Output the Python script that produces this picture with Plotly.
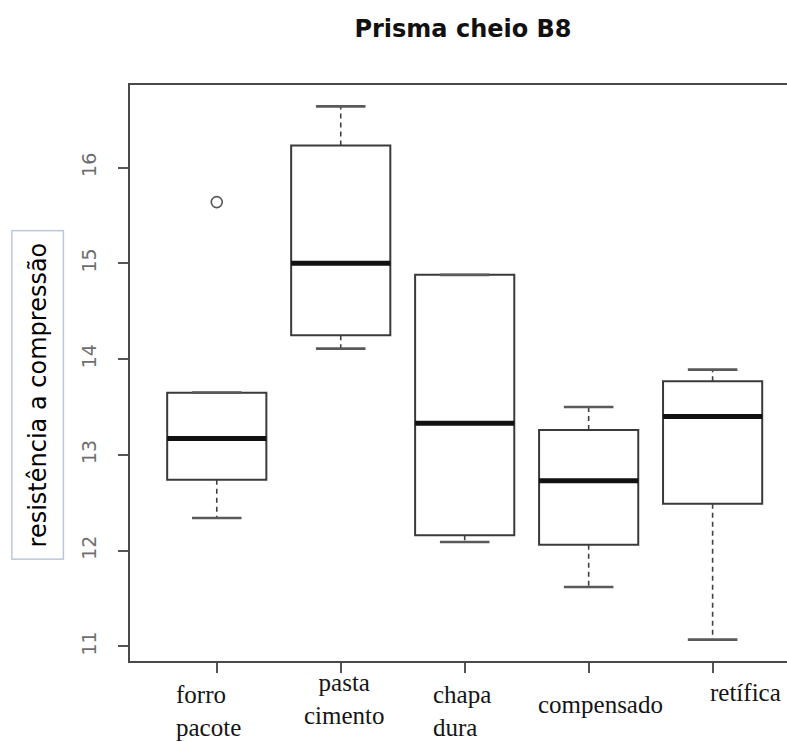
import plotly.graph_objects as go

# Compression strength per formwork type (five-number summaries)
categories = ["forro pacote", "pasta cimento", "chapa dura", "compensado", "retífica"]
category_labels = ["forro<br>pacote", "pasta<br>cimento", "chapa<br>dura", "compensado", "retífica"]
lower_whisker = [12.34, 14.11, 12.09, 11.62, 11.07]
q1 = [12.74, 14.25, 12.16, 12.06, 12.49]
median = [13.17, 15.00, 13.33, 12.73, 13.40]
q3 = [13.65, 16.23, 14.88, 13.26, 13.77]
upper_whisker = [13.65, 16.64, 14.88, 13.50, 13.89]
outlier_category = ["forro pacote"]
outlier_value = [15.64]
y_ticks = [11, 12, 13, 14, 15, 16]

pos = list(range(1, len(categories) + 1))
BOX_W = 0.8
CAP_W = 0.4

fig = go.Figure()

fig.add_trace(go.Box(
    x=pos, q1=q1, median=median, q3=q3,
    lowerfence=q1, upperfence=q3,
    width=BOX_W, fillcolor="white",
    line=dict(color="#3a3a3a", width=2),
    whiskerwidth=0, boxpoints=False, hoverinfo="skip",
))

# dashed whiskers
wx, wy = [], []
for p, lo, a, b, hi in zip(pos, lower_whisker, q1, q3, upper_whisker):
    wx += [p, p, None, p, p, None]
    wy += [b, hi, None, a, lo, None]
fig.add_trace(go.Scatter(x=wx, y=wy, mode="lines",
                         line=dict(color="#404040", width=1.6, dash="5px,4px"),
                         hoverinfo="skip"))

# whisker staples
cx, cy = [], []
for p, lo, hi in zip(pos, lower_whisker, upper_whisker):
    cx += [p - CAP_W / 2, p + CAP_W / 2, None, p - CAP_W / 2, p + CAP_W / 2, None]
    cy += [hi, hi, None, lo, lo, None]
fig.add_trace(go.Scatter(x=cx, y=cy, mode="lines",
                         line=dict(color="#5a5a5a", width=2.6),
                         hoverinfo="skip"))

# thick median bars
mx, my = [], []
for p, m in zip(pos, median):
    mx += [p - BOX_W / 2, p + BOX_W / 2, None]
    my += [m, m, None]
fig.add_trace(go.Scatter(x=mx, y=my, mode="lines",
                         line=dict(color="#111111", width=5),
                         hoverinfo="skip"))

# outliers
fig.add_trace(go.Scatter(
    x=[pos[categories.index(c)] for c in outlier_category], y=outlier_value,
    mode="markers",
    marker=dict(symbol="circle-open", size=11, color="#555555", line=dict(width=1.6)),
    hoverinfo="skip"))

# category labels under the axis
label_xshift = [-43, 4, -34, -53, -5]
label_xanchor = ["left", "center", "left", "left", "left"]
label_yshift = [-18, -6, -18, -28, -16]
for p, txt, xs, xa, ys in zip(pos, category_labels, label_xshift, label_xanchor, label_yshift):
    fig.add_annotation(x=p, y=0, xref="x", yref="paper", text=txt,
                       showarrow=False, xanchor=xa, yanchor="top", align=xa,
                       xshift=xs, yshift=ys,
                       font=dict(family="Liberation Serif", size=25, color="#151515"))

# boxed y-axis title
fig.add_annotation(x=-0.140, y=0.462, xref="paper", yref="paper",
                   text="resistência a compressão", textangle=-90,
                   showarrow=False, xanchor="center", yanchor="middle",
                   bordercolor="#b9c8df", borderwidth=1.5, borderpad=11,
                   font=dict(family="DejaVu Sans", size=24, color="#000000"))

fig.update_layout(
    width=787, height=742,
    margin=dict(l=130, r=0, t=85, b=81),
    paper_bgcolor="white", plot_bgcolor="white",
    showlegend=False,
    title=dict(text="<b>Prisma cheio B8</b>", x=463 / 787, xanchor="center",
               y=1 - 29 / 742, yanchor="middle", yref="container",
               font=dict(family="DejaVu Sans", size=24, color="#111111")),
    xaxis=dict(range=[0.3, 5.6], tickvals=pos, showticklabels=False,
               ticks="outside", ticklen=10, tickwidth=2, tickcolor="#555555",
               showline=True, mirror=True, linecolor="#4a4a4a", linewidth=2,
               showgrid=False, zeroline=False),
    yaxis=dict(range=[10.847, 16.863], tickvals=y_ticks, tickangle=-90,
               ticks="outside", ticklen=10, tickwidth=2, tickcolor="#555555",
               tickfont=dict(family="DejaVu Sans", size=19, color="#6e6e6e"),
               ticklabelstandoff=14,
               showline=True, mirror=False, linecolor="#4a4a4a", linewidth=2,
               showgrid=False, zeroline=False),
)

fig.write_html("out.html")
